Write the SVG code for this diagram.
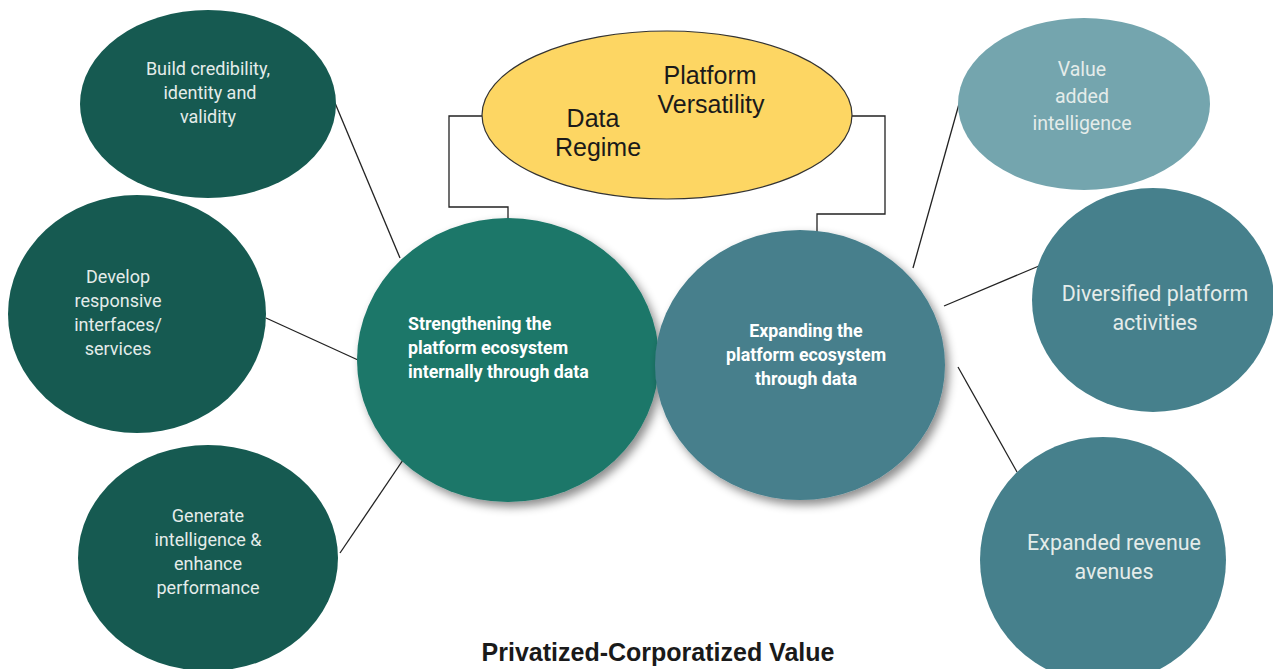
<svg xmlns="http://www.w3.org/2000/svg" width="1273" height="669" viewBox="0 0 1273 669">
<defs>
<filter id="sh" x="-20%" y="-20%" width="150%" height="150%">
<feDropShadow dx="4" dy="5" stdDeviation="5" flood-color="#000" flood-opacity="0.45"/>
</filter>
<style>
.t{font-family:Roboto,"Liberation Sans",sans-serif;fill:#e4ecea;text-anchor:middle}
.s{font-size:18px}
.b{font-family:Roboto,"Liberation Sans",sans-serif;font-weight:bold;font-size:17.8px;fill:#ffffff}
.y{font-family:"Liberation Sans",Arial,sans-serif;font-size:25px;fill:#1a1a1a;text-anchor:middle}
.ln{fill:none;stroke:#222;stroke-width:1.3}
.dk{fill:#165a51}
</style>
</defs>
<rect width="1273" height="669" fill="#ffffff"/>
<g id="connectors">
<path class="ln" d="M482,116 H449 V207 H508 V220"/>
<path class="ln" d="M852,116 H885 V214 H817 V232"/>
<line class="ln" x1="335" y1="103" x2="400" y2="258"/>
<line class="ln" x1="266" y1="318" x2="358" y2="360"/>
<line class="ln" x1="340" y1="553" x2="403" y2="460"/>
<line class="ln" x1="913" y1="268" x2="959" y2="104"/>
<line class="ln" x1="944" y1="306" x2="1046" y2="263"/>
<line class="ln" x1="958" y1="367" x2="1017" y2="472"/>
</g>
<g id="node-build">
<ellipse class="dk" cx="208" cy="104" rx="128" ry="94"/>
<text class="t s" x="208" y="75">Build credibility,</text>
<text class="t s" x="210" y="99">identity and</text>
<text class="t s" x="208" y="123">validity</text>
</g>
<g id="node-develop">
<ellipse class="dk" cx="137" cy="314" rx="129" ry="119"/>
<text class="t s" x="118" y="283">Develop</text>
<text class="t s" x="118" y="307">responsive</text>
<text class="t s" x="118" y="331">interfaces/</text>
<text class="t s" x="118" y="355">services</text>
</g>
<g id="node-generate">
<ellipse class="dk" cx="208" cy="558" rx="130" ry="113"/>
<text class="t s" x="208" y="522">Generate</text>
<text class="t s" x="208" y="546">intelligence &amp;</text>
<text class="t s" x="208" y="570">enhance</text>
<text class="t s" x="208" y="594">performance</text>
</g>
<g id="node-platform">
<ellipse cx="667" cy="115" rx="185" ry="84" fill="#fdd663" stroke="#333" stroke-width="1.2"/>
<text class="y" x="710" y="84">Platform</text>
<text class="y" x="711" y="113">Versatility</text>
<text class="y" x="593" y="127">Data</text>
<text class="y" x="598" y="156">Regime</text>
</g>
<g id="node-strengthening">
<ellipse cx="508" cy="360" rx="151" ry="142" fill="#1b7769" filter="url(#sh)"/>
<text class="b" x="408" y="330">Strengthening the</text>
<text class="b" x="408" y="354">platform ecosystem</text>
<text class="b" x="408" y="378">internally through data</text>
</g>
<g id="node-expanding">
<ellipse cx="800" cy="365" rx="145" ry="135" fill="#467f8c" filter="url(#sh)"/>
<text class="b" x="806" y="337" text-anchor="middle">Expanding the</text>
<text class="b" x="806" y="361" text-anchor="middle">platform ecosystem</text>
<text class="b" x="806" y="385" text-anchor="middle">through data</text>
</g>
<g id="node-value">
<ellipse cx="1084" cy="104" rx="126" ry="86" fill="#74a5ae"/>
<text class="t" x="1082" y="76" font-size="19.5">Value</text>
<text class="t" x="1082" y="103" font-size="19.5">added</text>
<text class="t" x="1082" y="130" font-size="19.5">intelligence</text>
</g>
<g id="node-diversified">
<ellipse cx="1153" cy="300" rx="121" ry="112" fill="#46808c"/>
<text class="t" x="1155" y="301" font-size="21.4">Diversified platform</text>
<text class="t" x="1155" y="330" font-size="21.4">activities</text>
</g>
<g id="node-expanded">
<ellipse cx="1103" cy="560" rx="123" ry="123" fill="#46808c"/>
<text class="t" x="1114" y="550" font-size="21.4">Expanded revenue</text>
<text class="t" x="1114" y="579" font-size="21.4">avenues</text>
</g>
<text x="658" y="661" font-family="'Liberation Sans',Arial,sans-serif" font-weight="bold" font-size="25" fill="#1a1a1a" text-anchor="middle">Privatized-Corporatized Value</text>
</svg>
